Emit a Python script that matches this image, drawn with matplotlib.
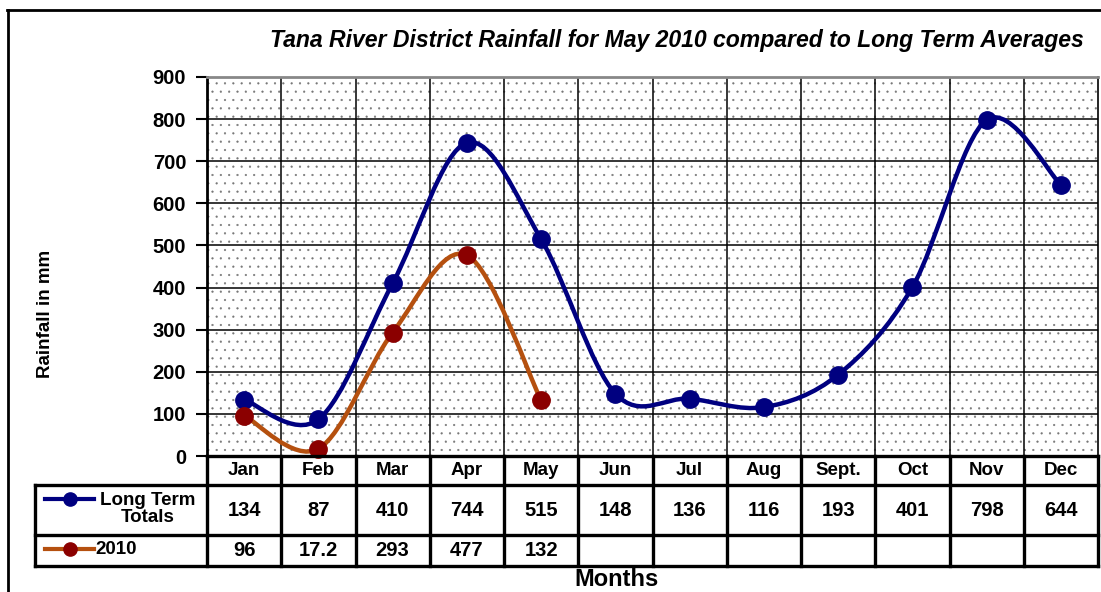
import matplotlib
matplotlib.use('Agg')
import matplotlib.pyplot as plt
from matplotlib.path import Path
from matplotlib.patches import PathPatch, Rectangle
from matplotlib.lines import Line2D
import matplotlib.transforms as mtransforms
import numpy as np

# ---- data ----
months = ['Jan', 'Feb', 'Mar', 'Apr', 'May', 'Jun', 'Jul', 'Aug', 'Sept.', 'Oct', 'Nov', 'Dec']
long_term = [134, 87, 410, 744, 515, 148, 136, 116, 193, 401, 798, 644]
rain_2010 = [96, 17.2, 293, 477, 132]
series_names = ['Long Term\nTotals', '2010']
y_ticks = [0, 100, 200, 300, 400, 500, 600, 700, 800, 900]
title = 'Tana River District Rainfall for May 2010 compared to Long Term Averages'

# ---- style ----
plt.rcParams['font.family'] = ['Liberation Sans', 'DejaVu Sans']
plt.rcParams['font.weight'] = 'bold'
plt.rcParams['hatch.color'] = '#777777'
plt.rcParams['hatch.linewidth'] = 0.35

C_LT = '#000080'
C_10_LINE = '#B5500F'
C_10_MARK = '#8B0000'

W, H = 1101, 592
fig = plt.figure(figsize=(W / 100, H / 100), dpi=100)
fig.patch.set_facecolor('white')

def fx(px):
    return px / W

def fy(py):
    return 1 - py / H

PL, PR, PT, PB = 207, 1098, 77, 456
ax = fig.add_axes([fx(PL), fy(PB), fx(PR) - fx(PL), fy(PT) - fy(PB)])
ax.set_xlim(-0.5, len(months) - 0.5)
ax.set_ylim(y_ticks[0], y_ticks[-1])
ax.set_facecolor('white')
ax.add_patch(Rectangle((0, 0), 1, 1, transform=ax.transAxes, facecolor='none',
                       edgecolor='#777777', lw=0, hatch='..', zorder=0))

# grid
ax.set_yticks(y_ticks)
ax.set_xticks(np.arange(0.5, len(months) - 0.5, 1))
ax.tick_params(axis='x', length=0, labelbottom=False)
ax.tick_params(axis='y', direction='out', length=8, width=1.5, labelsize=14.5, pad=7)
for lab in ax.get_yticklabels():
    lab.set_fontweight('bold')
ax.grid(True, color='black', lw=1.1, zorder=1)
ax.set_axisbelow(True)
for s in ['left', 'bottom']:
    ax.spines[s].set_linewidth(2)
ax.spines['top'].set_color('#888888')
ax.spines['top'].set_linewidth(2)
ax.spines['right'].set_linewidth(1.2)


def smooth_path(xs, ys):
    pts = np.column_stack([xs, ys]).astype(float)
    n = len(pts)
    verts = [pts[0]]
    codes = [Path.MOVETO]
    for i in range(n - 1):
        p0 = pts[i - 1] if i > 0 else pts[i]
        p1 = pts[i]
        p2 = pts[i + 1]
        p3 = pts[i + 2] if i + 2 < n else pts[i + 1]
        c1 = p1 + (p2 - p0) / 6.0
        c2 = p2 - (p3 - p1) / 6.0
        verts += [c1, c2, p2]
        codes += [Path.CURVE4] * 3
    return Path(verts, codes)


for vals, lc, mc in [(long_term, C_LT, C_LT), (rain_2010, C_10_LINE, C_10_MARK)]:
    xs = np.arange(len(vals))
    ax.add_patch(PathPatch(smooth_path(xs, vals), fill=False, edgecolor=lc, lw=3.2,
                           capstyle='round', joinstyle='round', zorder=3, clip_on=False))
    ax.plot(xs, vals, 'o', color=mc, markersize=12.5, zorder=4, clip_on=False)

# ---- data table ----
trans = mtransforms.blended_transform_factory(ax.transData, ax.transAxes)
ph = PB - PT

def ry(py):
    return (PB - py) / ph

col_w = (PR - PL) / len(months)
x_left_tbl = -0.5 + (35 - PL) / col_w
x_right = len(months) - 0.5
y_hdr = ry(485)
y_r1 = ry(535)
y_r2 = ry(566)

LW = 2.4
def hline(x0, x1, y):
    ax.plot([x0, x1], [y, y], color='black', lw=LW, transform=trans, clip_on=False,
            solid_capstyle='projecting', zorder=5)

def vline(x, y0, y1):
    ax.plot([x, x], [y0, y1], color='black', lw=LW, transform=trans, clip_on=False,
            solid_capstyle='projecting', zorder=5)

hline(-0.5, x_right, 0)
hline(x_left_tbl, x_right, y_hdr)
hline(x_left_tbl, x_right, y_r1)
hline(x_left_tbl, x_right, y_r2)
for k in range(len(months) + 1):
    vline(k - 0.5, 0, y_r2)
vline(x_left_tbl, y_hdr, y_r2)

for i, m in enumerate(months):
    ax.text(i, (0 + y_hdr) / 2, m, transform=trans, ha='center', va='center',
            fontsize=13.5, fontweight='bold')
for row_vals, ymid in [(long_term, (y_hdr + y_r1) / 2), (rain_2010, (y_r1 + y_r2) / 2)]:
    for i, v in enumerate(row_vals):
        ax.text(i, ymid, format(v, 'g'), transform=trans, ha='center', va='center',
                fontsize=14.5, fontweight='bold')

# legend keys in table
for (name, lc, mc, ky) in [(series_names[0], C_LT, C_LT, 499), (series_names[1], C_10_LINE, C_10_MARK, 549)]:
    fig.add_artist(Line2D([fx(45), fx(94)], [fy(ky), fy(ky)], color=lc, lw=3))
    fig.add_artist(Line2D([fx(70)], [fy(ky)], marker='o', color=mc, markersize=9.5))
fig.text(fx(148), fy(509), series_names[0], ha='center', va='center', fontsize=13.5,
         fontweight='bold', multialignment='center', linespacing=1.0)
fig.text(fx(95), fy(550), series_names[1], ha='left', va='center', fontsize=13.5,
         fontweight='bold')

# labels
fig.text(fx(617), fy(580), 'Months', ha='center', va='center', fontsize=17, fontweight='bold')
fig.text(fx(45), fy(314), 'Rainfall in mm', ha='center', va='center', rotation=90,
         fontsize=13.5, fontweight='bold')
fig.text(fx(270), fy(40), title, ha='left', va='center', fontsize=16.6,
         fontweight='bold', fontstyle='italic')

# outer frame
fig.add_artist(Line2D([fx(8), fx(8)], [fy(10), -0.05], color='black', lw=2))
fig.add_artist(Line2D([fx(7), 1.05], [fy(10), fy(10)], color='black', lw=2))

fig.savefig('out.png', dpi=100)
